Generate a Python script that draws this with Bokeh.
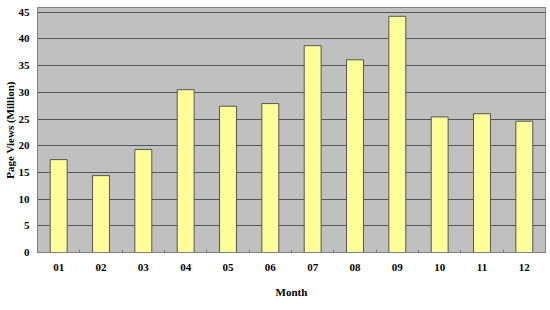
from bokeh.plotting import figure
from bokeh.models import Range1d, FixedTicker, ColumnDataSource
from bokeh.embed import file_html
from bokeh.resources import INLINE

months = ["01", "02", "03", "04", "05", "06", "07", "08", "09", "10", "11", "12"]
views = [17.4, 14.4, 19.3, 30.5, 27.4, 27.9, 38.75, 36.1, 44.25, 25.4, 26.0, 24.6]
y_ticks = [0, 5, 10, 15, 20, 25, 30, 35, 40, 45]

xpos = list(range(1, len(months) + 1))
src = ColumnDataSource(dict(x=xpos, top=views))

p = figure(width=550, height=310, output_backend="svg", toolbar_location=None,
           x_range=Range1d(0.5, 12.5), y_range=Range1d(0, 45.9),
           min_border_left=37, min_border_right=5, min_border_top=7, min_border_bottom=58)
p.background_fill_color = "#c0c0c0"
p.border_fill_color = "white"
p.outline_line_color = "#808080"

p.vbar(x="x", top="top", width=0.4, source=src, fill_color="#ffff99",
       line_color="#555555", line_width=1)

xt = FixedTicker(ticks=xpos, minor_ticks=[i + 0.5 for i in range(0, 13)])
p.xaxis.ticker = xt
p.xaxis.major_label_overrides = {i: m for i, m in zip(xpos, months)}
p.xaxis.major_tick_in = 0
p.xaxis.major_tick_out = 0
p.xaxis.minor_tick_in = 3
p.xaxis.minor_tick_out = 0
p.xaxis.minor_tick_line_color = "#808080"
p.xaxis.axis_line_color = "#808080"
p.xaxis.major_label_standoff = 11
p.xaxis.axis_label = "Month"
p.xaxis.axis_label_standoff = 12

p.yaxis.ticker = FixedTicker(ticks=y_ticks)
p.yaxis.major_tick_in = 0
p.yaxis.major_tick_out = 0
p.yaxis.minor_tick_line_color = None
p.yaxis.axis_line_color = "#808080"
p.yaxis.major_label_standoff = 8
p.yaxis.axis_label = "Page Views (Million)"
p.yaxis.axis_label_standoff = 0

for ax in (p.xaxis, p.yaxis):
    ax.major_label_text_font = "Liberation Serif"
    ax.major_label_text_font_style = "bold"
    ax.major_label_text_font_size = "11px"
    ax.major_label_text_color = "black"
    ax.axis_label_text_font = "Liberation Serif"
    ax.axis_label_text_font_style = "bold"
    ax.axis_label_text_font_size = "11px"
    ax.axis_label_text_color = "black"

p.xgrid.grid_line_color = None
p.ygrid.ticker = FixedTicker(ticks=y_ticks)
p.ygrid.grid_line_color = "#555555"
p.ygrid.grid_line_width = 1

open("out.html", "w").write(file_html(p, INLINE))
